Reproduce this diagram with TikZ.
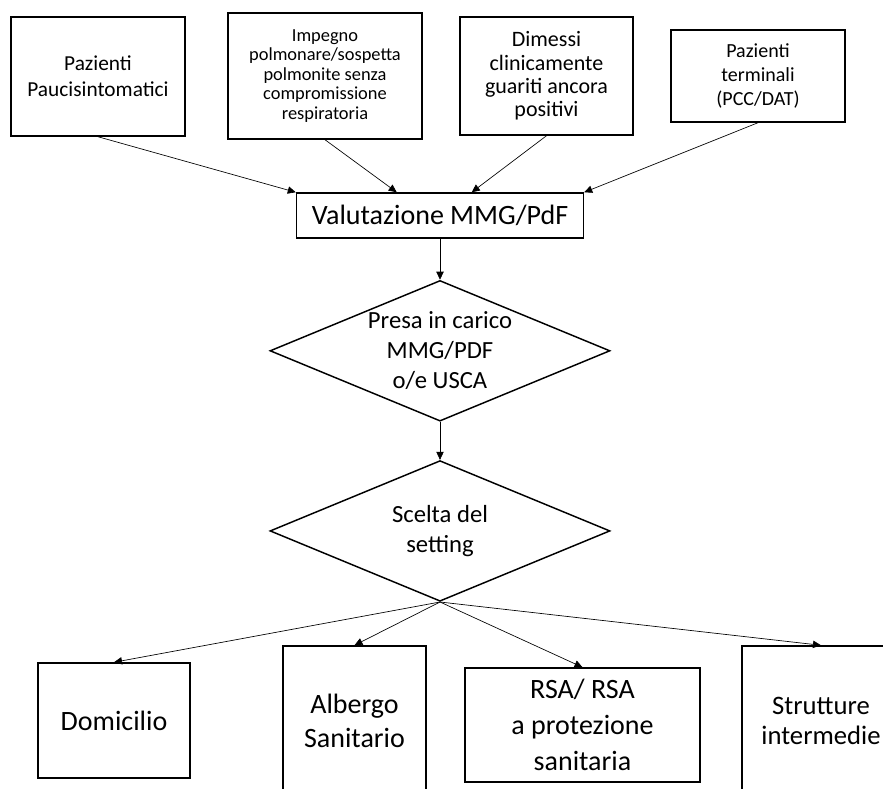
\documentclass[tikz,border=0pt]{standalone}
\usepackage{fontspec}
\setmainfont{Carlito}
\usetikzlibrary{shapes,arrows.meta,calc,positioning}

\begin{document}
\begin{tikzpicture}[x=0.75pt,y=-0.75pt,->,>={Triangle[length=6pt,width=5.5pt]},line width=0.5pt,
    main box/.style={rectangle,draw,line width=1.1pt,align=center,inner sep=0pt},
    choice/.style={diamond,draw,line width=1.1pt,inner sep=0pt,aspect=2.42,minimum width=255pt,minimum height=105.5pt},
    choice text/.style={align=center,font=\fontsize{18.5}{22.5}\selectfont}]
    \clip (0,0) rectangle (883,789);

    \node[main box,minimum width=130.5pt,minimum height=89.25pt,font=\fontsize{16}{19.5}\selectfont] (pauci) at (98,76.5) {Pazienti\\Paucisintomatici};
    \node[main box,minimum width=145.5pt,minimum height=94.5pt,font=\fontsize{13.8}{14.6}\selectfont] (impegno) at (325,76) {Impegno\\polmonare/sospetta\\polmonite senza\\compromissione\\respiratoria};
    \node[main box,minimum width=129.75pt,minimum height=88.5pt,font=\fontsize{16.5}{17.6}\selectfont] (dimessi) at (546.5,76) {Dimessi\\clinicamente\\guariti ancora\\positivi};
    \node[main box,minimum width=130.5pt,minimum height=69pt,font=\fontsize{15}{18}\selectfont] (termin) at (758,76) {Pazienti\\terminali\\(PCC/DAT)};

    \node[main box,minimum width=215.25pt,minimum height=33.75pt,font=\fontsize{21}{25}\selectfont] (valut) at (440,215.5) {Valutazione MMG/PdF};
    \node[choice,below=30.75pt of valut] (presa) {};
    \node[choice text] (presatxt) at (presa) {Presa in carico\\MMG/PDF\\o/e USCA};
    \node[choice,below=28.5pt of presa] (scelta) {};
    \node[choice text] (sceltatxt) at (scelta) {Scelta del\\setting};

    \node[main box,minimum width=114pt,minimum height=86.25pt,font=\fontsize{21}{25}\selectfont] (domic) at (114,720.5) {Domicilio};
    \node[main box,minimum width=107.25pt,minimum height=112.5pt,font=\fontsize{21}{25}\selectfont] (albergo) at (354.5,721) {Albergo\\Sanitario};
    \node[main box,minimum width=176.25pt,minimum height=85.5pt,font=\fontsize{21}{27}\selectfont] (rsa) at (582.5,725) {RSA/ RSA\\a protezione\\sanitaria};
    \node[main box,minimum width=118.5pt,minimum height=112.5pt,font=\fontsize{20}{22}\selectfont] (strutt) at (821,721) {Strutture\\intermedie};

    \coordinate (valin2) at ($(valut.north west)!0.35!(valut.north east)$);
    \coordinate (valin3) at ($(valut.north west)!0.61!(valut.north east)$);

    \path[->] (pauci.south) edge (valut.north west)
        (impegno.south) edge (valin2)
        (dimessi.south) edge (valin3)
        (termin.south) edge (valut.north east)
        (valut) edge (presa)
        (presa) edge (scelta)
        (scelta.south) edge (domic.north)
        (scelta.south) edge (albergo.north)
        (scelta.south) edge (rsa.north)
        (scelta.south) edge (strutt.north);

\end{tikzpicture}
\end{document}
